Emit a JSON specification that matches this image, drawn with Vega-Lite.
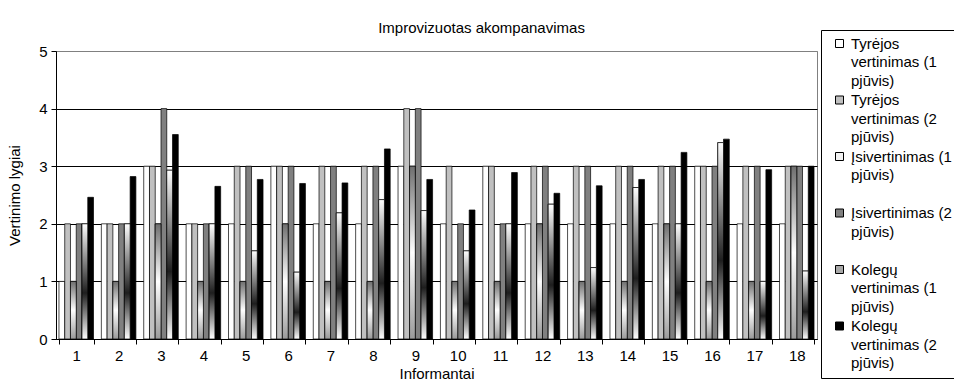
{
  "$schema": "https://vega.github.io/schema/vega-lite/v6.json",
  "width": 761,
  "height": 288,
  "autosize": {"type": "none"},
  "padding": {"left": 56, "top": 51, "right": 137, "bottom": 49},
  "background": "white",
  "title": {
    "text": "Improvizuotas akompanavimas",
    "fontSize": 15,
    "fontWeight": "normal",
    "font": "Liberation Sans",
    "color": "black",
    "offset": 16,
    "dx": 45,
    "dy": 22
  },
  "data": {
    "values": [
      {"informantas": 1, "serija": "Tyrėjos vertinimas (1 pjūvis)", "vertinimas": 1},
      {"informantas": 1, "serija": "Tyrėjos vertinimas (2 pjūvis)", "vertinimas": 2},
      {"informantas": 1, "serija": "Įsivertinimas (1 pjūvis)", "vertinimas": 1},
      {"informantas": 1, "serija": "Įsivertinimas (2 pjūvis)", "vertinimas": 2},
      {"informantas": 1, "serija": "Kolegų vertinimas (1 pjūvis)", "vertinimas": 2},
      {"informantas": 1, "serija": "Kolegų vertinimas (2 pjūvis)", "vertinimas": 2.46},
      {"informantas": 2, "serija": "Tyrėjos vertinimas (1 pjūvis)", "vertinimas": 2},
      {"informantas": 2, "serija": "Tyrėjos vertinimas (2 pjūvis)", "vertinimas": 2},
      {"informantas": 2, "serija": "Įsivertinimas (1 pjūvis)", "vertinimas": 1},
      {"informantas": 2, "serija": "Įsivertinimas (2 pjūvis)", "vertinimas": 2},
      {"informantas": 2, "serija": "Kolegų vertinimas (1 pjūvis)", "vertinimas": 2},
      {"informantas": 2, "serija": "Kolegų vertinimas (2 pjūvis)", "vertinimas": 2.82},
      {"informantas": 3, "serija": "Tyrėjos vertinimas (1 pjūvis)", "vertinimas": 3},
      {"informantas": 3, "serija": "Tyrėjos vertinimas (2 pjūvis)", "vertinimas": 3},
      {"informantas": 3, "serija": "Įsivertinimas (1 pjūvis)", "vertinimas": 2},
      {"informantas": 3, "serija": "Įsivertinimas (2 pjūvis)", "vertinimas": 4},
      {"informantas": 3, "serija": "Kolegų vertinimas (1 pjūvis)", "vertinimas": 2.93},
      {"informantas": 3, "serija": "Kolegų vertinimas (2 pjūvis)", "vertinimas": 3.55},
      {"informantas": 4, "serija": "Tyrėjos vertinimas (1 pjūvis)", "vertinimas": 2},
      {"informantas": 4, "serija": "Tyrėjos vertinimas (2 pjūvis)", "vertinimas": 2},
      {"informantas": 4, "serija": "Įsivertinimas (1 pjūvis)", "vertinimas": 1},
      {"informantas": 4, "serija": "Įsivertinimas (2 pjūvis)", "vertinimas": 2},
      {"informantas": 4, "serija": "Kolegų vertinimas (1 pjūvis)", "vertinimas": 2},
      {"informantas": 4, "serija": "Kolegų vertinimas (2 pjūvis)", "vertinimas": 2.65},
      {"informantas": 5, "serija": "Tyrėjos vertinimas (1 pjūvis)", "vertinimas": 2},
      {"informantas": 5, "serija": "Tyrėjos vertinimas (2 pjūvis)", "vertinimas": 3},
      {"informantas": 5, "serija": "Įsivertinimas (1 pjūvis)", "vertinimas": 1},
      {"informantas": 5, "serija": "Įsivertinimas (2 pjūvis)", "vertinimas": 3},
      {"informantas": 5, "serija": "Kolegų vertinimas (1 pjūvis)", "vertinimas": 1.53},
      {"informantas": 5, "serija": "Kolegų vertinimas (2 pjūvis)", "vertinimas": 2.77},
      {"informantas": 6, "serija": "Tyrėjos vertinimas (1 pjūvis)", "vertinimas": 3},
      {"informantas": 6, "serija": "Tyrėjos vertinimas (2 pjūvis)", "vertinimas": 3},
      {"informantas": 6, "serija": "Įsivertinimas (1 pjūvis)", "vertinimas": 2},
      {"informantas": 6, "serija": "Įsivertinimas (2 pjūvis)", "vertinimas": 3},
      {"informantas": 6, "serija": "Kolegų vertinimas (1 pjūvis)", "vertinimas": 1.16},
      {"informantas": 6, "serija": "Kolegų vertinimas (2 pjūvis)", "vertinimas": 2.7},
      {"informantas": 7, "serija": "Tyrėjos vertinimas (1 pjūvis)", "vertinimas": 2},
      {"informantas": 7, "serija": "Tyrėjos vertinimas (2 pjūvis)", "vertinimas": 3},
      {"informantas": 7, "serija": "Įsivertinimas (1 pjūvis)", "vertinimas": 1},
      {"informantas": 7, "serija": "Įsivertinimas (2 pjūvis)", "vertinimas": 3},
      {"informantas": 7, "serija": "Kolegų vertinimas (1 pjūvis)", "vertinimas": 2.19},
      {"informantas": 7, "serija": "Kolegų vertinimas (2 pjūvis)", "vertinimas": 2.71},
      {"informantas": 8, "serija": "Tyrėjos vertinimas (1 pjūvis)", "vertinimas": 2},
      {"informantas": 8, "serija": "Tyrėjos vertinimas (2 pjūvis)", "vertinimas": 3},
      {"informantas": 8, "serija": "Įsivertinimas (1 pjūvis)", "vertinimas": 1},
      {"informantas": 8, "serija": "Įsivertinimas (2 pjūvis)", "vertinimas": 3},
      {"informantas": 8, "serija": "Kolegų vertinimas (1 pjūvis)", "vertinimas": 2.42},
      {"informantas": 8, "serija": "Kolegų vertinimas (2 pjūvis)", "vertinimas": 3.3},
      {"informantas": 9, "serija": "Tyrėjos vertinimas (1 pjūvis)", "vertinimas": 3},
      {"informantas": 9, "serija": "Tyrėjos vertinimas (2 pjūvis)", "vertinimas": 4},
      {"informantas": 9, "serija": "Įsivertinimas (1 pjūvis)", "vertinimas": 3},
      {"informantas": 9, "serija": "Įsivertinimas (2 pjūvis)", "vertinimas": 4},
      {"informantas": 9, "serija": "Kolegų vertinimas (1 pjūvis)", "vertinimas": 2.23},
      {"informantas": 9, "serija": "Kolegų vertinimas (2 pjūvis)", "vertinimas": 2.77},
      {"informantas": 10, "serija": "Tyrėjos vertinimas (1 pjūvis)", "vertinimas": 2},
      {"informantas": 10, "serija": "Tyrėjos vertinimas (2 pjūvis)", "vertinimas": 3},
      {"informantas": 10, "serija": "Įsivertinimas (1 pjūvis)", "vertinimas": 1},
      {"informantas": 10, "serija": "Įsivertinimas (2 pjūvis)", "vertinimas": 2},
      {"informantas": 10, "serija": "Kolegų vertinimas (1 pjūvis)", "vertinimas": 1.53},
      {"informantas": 10, "serija": "Kolegų vertinimas (2 pjūvis)", "vertinimas": 2.24},
      {"informantas": 11, "serija": "Tyrėjos vertinimas (1 pjūvis)", "vertinimas": 3},
      {"informantas": 11, "serija": "Tyrėjos vertinimas (2 pjūvis)", "vertinimas": 3},
      {"informantas": 11, "serija": "Įsivertinimas (1 pjūvis)", "vertinimas": 1},
      {"informantas": 11, "serija": "Įsivertinimas (2 pjūvis)", "vertinimas": 2},
      {"informantas": 11, "serija": "Kolegų vertinimas (1 pjūvis)", "vertinimas": 2},
      {"informantas": 11, "serija": "Kolegų vertinimas (2 pjūvis)", "vertinimas": 2.89},
      {"informantas": 12, "serija": "Tyrėjos vertinimas (1 pjūvis)", "vertinimas": 2},
      {"informantas": 12, "serija": "Tyrėjos vertinimas (2 pjūvis)", "vertinimas": 3},
      {"informantas": 12, "serija": "Įsivertinimas (1 pjūvis)", "vertinimas": 2},
      {"informantas": 12, "serija": "Įsivertinimas (2 pjūvis)", "vertinimas": 3},
      {"informantas": 12, "serija": "Kolegų vertinimas (1 pjūvis)", "vertinimas": 2.34},
      {"informantas": 12, "serija": "Kolegų vertinimas (2 pjūvis)", "vertinimas": 2.53},
      {"informantas": 13, "serija": "Tyrėjos vertinimas (1 pjūvis)", "vertinimas": 2},
      {"informantas": 13, "serija": "Tyrėjos vertinimas (2 pjūvis)", "vertinimas": 3},
      {"informantas": 13, "serija": "Įsivertinimas (1 pjūvis)", "vertinimas": 1},
      {"informantas": 13, "serija": "Įsivertinimas (2 pjūvis)", "vertinimas": 3},
      {"informantas": 13, "serija": "Kolegų vertinimas (1 pjūvis)", "vertinimas": 1.24},
      {"informantas": 13, "serija": "Kolegų vertinimas (2 pjūvis)", "vertinimas": 2.66},
      {"informantas": 14, "serija": "Tyrėjos vertinimas (1 pjūvis)", "vertinimas": 2},
      {"informantas": 14, "serija": "Tyrėjos vertinimas (2 pjūvis)", "vertinimas": 3},
      {"informantas": 14, "serija": "Įsivertinimas (1 pjūvis)", "vertinimas": 1},
      {"informantas": 14, "serija": "Įsivertinimas (2 pjūvis)", "vertinimas": 3},
      {"informantas": 14, "serija": "Kolegų vertinimas (1 pjūvis)", "vertinimas": 2.63},
      {"informantas": 14, "serija": "Kolegų vertinimas (2 pjūvis)", "vertinimas": 2.77},
      {"informantas": 15, "serija": "Tyrėjos vertinimas (1 pjūvis)", "vertinimas": 2},
      {"informantas": 15, "serija": "Tyrėjos vertinimas (2 pjūvis)", "vertinimas": 3},
      {"informantas": 15, "serija": "Įsivertinimas (1 pjūvis)", "vertinimas": 2},
      {"informantas": 15, "serija": "Įsivertinimas (2 pjūvis)", "vertinimas": 3},
      {"informantas": 15, "serija": "Kolegų vertinimas (1 pjūvis)", "vertinimas": 2},
      {"informantas": 15, "serija": "Kolegų vertinimas (2 pjūvis)", "vertinimas": 3.24},
      {"informantas": 16, "serija": "Tyrėjos vertinimas (1 pjūvis)", "vertinimas": 3},
      {"informantas": 16, "serija": "Tyrėjos vertinimas (2 pjūvis)", "vertinimas": 3},
      {"informantas": 16, "serija": "Įsivertinimas (1 pjūvis)", "vertinimas": 1},
      {"informantas": 16, "serija": "Įsivertinimas (2 pjūvis)", "vertinimas": 3},
      {"informantas": 16, "serija": "Kolegų vertinimas (1 pjūvis)", "vertinimas": 3.41},
      {"informantas": 16, "serija": "Kolegų vertinimas (2 pjūvis)", "vertinimas": 3.47},
      {"informantas": 17, "serija": "Tyrėjos vertinimas (1 pjūvis)", "vertinimas": 2},
      {"informantas": 17, "serija": "Tyrėjos vertinimas (2 pjūvis)", "vertinimas": 3},
      {"informantas": 17, "serija": "Įsivertinimas (1 pjūvis)", "vertinimas": 1},
      {"informantas": 17, "serija": "Įsivertinimas (2 pjūvis)", "vertinimas": 3},
      {"informantas": 17, "serija": "Kolegų vertinimas (1 pjūvis)", "vertinimas": 1},
      {"informantas": 17, "serija": "Kolegų vertinimas (2 pjūvis)", "vertinimas": 2.94},
      {"informantas": 18, "serija": "Tyrėjos vertinimas (1 pjūvis)", "vertinimas": 2},
      {"informantas": 18, "serija": "Tyrėjos vertinimas (2 pjūvis)", "vertinimas": 3},
      {"informantas": 18, "serija": "Įsivertinimas (1 pjūvis)", "vertinimas": 3},
      {"informantas": 18, "serija": "Įsivertinimas (2 pjūvis)", "vertinimas": 3},
      {"informantas": 18, "serija": "Kolegų vertinimas (1 pjūvis)", "vertinimas": 1.18},
      {"informantas": 18, "serija": "Kolegų vertinimas (2 pjūvis)", "vertinimas": 3}
    ]
  },
  "encoding": {
    "x": {
      "field": "informantas",
      "type": "ordinal",
      "title": "Informantai",
      "scale": {"paddingInner": 0.185, "paddingOuter": 0.07},
      "axis": {
        "labelAngle": 0,
        "tickBand": "extent",
        "tickSize": 5,
        "tickColor": "black",
        "domainColor": "black",
        "labelPadding": 4,
        "titlePadding": 3,
        "grid": false
      }
    },
    "xOffset": {
      "field": "serija",
      "type": "nominal",
      "scale": {
        "domain": [
          "Tyrėjos vertinimas (1 pjūvis)",
          "Tyrėjos vertinimas (2 pjūvis)",
          "Įsivertinimas (1 pjūvis)",
          "Įsivertinimas (2 pjūvis)",
          "Kolegų vertinimas (1 pjūvis)",
          "Kolegų vertinimas (2 pjūvis)"
        ],
        "paddingInner": 0,
        "paddingOuter": 0
      }
    },
    "y": {
      "field": "vertinimas",
      "type": "quantitative",
      "title": "Vertinimo lygiai",
      "scale": {"domain": [0, 5], "nice": false},
      "axis": {
        "values": [0, 1, 2, 3, 4, 5],
        "tickSize": 5,
        "tickColor": "black",
        "domainColor": "black",
        "labelPadding": 4,
        "titlePadding": 16,
        "grid": true,
        "gridColor": {"condition": {"test": "datum.value === 5", "value": "#808080"}, "value": "black"},
        "gridOpacity": 1,
        "gridWidth": 1
      }
    }
  },
  "layer": [
    {
      "mark": {"type": "bar", "stroke": "black", "strokeWidth": 0.7},
      "encoding": {
        "fill": {
          "field": "serija",
          "type": "nominal",
          "scale": {
            "domain": [
              "Tyrėjos vertinimas (1 pjūvis)",
              "Tyrėjos vertinimas (2 pjūvis)",
              "Įsivertinimas (1 pjūvis)",
              "Įsivertinimas (2 pjūvis)",
              "Kolegų vertinimas (1 pjūvis)",
              "Kolegų vertinimas (2 pjūvis)"
            ],
            "range": ["#ffffff", "#c0c0c0", "#f2f2f2", "#808080", "#a8a8a8", "#000000"]
          },
          "legend": {
            "title": null,
            "orient": "none",
            "legendX": 765,
            "legendY": -21,
            "strokeColor": "black",
            "fillColor": "white",
            "padding": 6,
            "symbolType": "square",
            "symbolSize": 64,
            "symbolOffset": 5,
            "symbolStrokeColor": "black",
            "symbolStrokeWidth": 1,
            "labelOffset": 4,
            "labelLimit": 220,
            "labelBaseline": "middle",
            "rowPadding": 3.5,
            "labelExpr": "length(split(datum.label, ' ')) == 3 ? [split(datum.label, ' ')[0] + ' ' + split(datum.label, ' ')[1], split(datum.label, ' ')[2], ' '] : [split(datum.label, ' ')[0], split(datum.label, ' ')[1] + ' ' + split(datum.label, ' ')[2], split(datum.label, ' ')[3]]",
            "encode": {
              "labels": {
                "update": {
                  "lineHeight": {"value": 18.6}
                }
              }
            }
          }
        }
      }
    },
    {
      "transform": [{"filter": "datum.serija === 'Įsivertinimas (1 pjūvis)'"}],
      "mark": {
        "type": "bar",
        "stroke": "black",
        "strokeWidth": 0.7,
        "fill": {
          "gradient": "linear",
          "x1": 0, "y1": 0, "x2": 0, "y2": 1,
          "stops": [
            {"offset": 0, "color": "#6e6e6e"},
            {"offset": 0.5, "color": "#ffffff"},
            {"offset": 1, "color": "#9a9a9a"}
          ]
        }
      }
    },
    {
      "transform": [{"filter": "datum.serija === 'Kolegų vertinimas (1 pjūvis)'"}],
      "mark": {
        "type": "bar",
        "stroke": "black",
        "strokeWidth": 0.7,
        "fill": {
          "gradient": "linear",
          "x1": 0, "y1": 0, "x2": 0, "y2": 1,
          "stops": [
            {"offset": 0, "color": "#ffffff"},
            {"offset": 0.6, "color": "#1e1e1e"},
            {"offset": 1, "color": "#ffffff"}
          ]
        }
      }
    }
  ],
  "config": {
    "font": "Liberation Sans",
    "view": {"stroke": "#808080", "strokeWidth": 1},
    "axis": {
      "labelFontSize": 15,
      "labelColor": "black",
      "titleFontSize": 15,
      "titleFontWeight": "normal",
      "titleColor": "black",
      "labelFont": "Liberation Sans",
      "titleFont": "Liberation Sans"
    },
    "legend": {
      "labelFontSize": 15,
      "labelColor": "black",
      "labelFont": "Liberation Sans"
    }
  }
}
